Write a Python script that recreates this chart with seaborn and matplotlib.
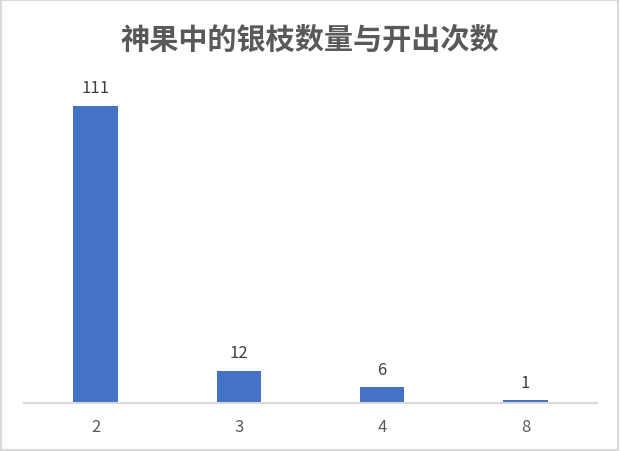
import pandas as pd
import matplotlib
matplotlib.use("Agg")
import matplotlib.pyplot as plt
import seaborn as sns
from matplotlib.patches import Rectangle

# chart data
branch_counts = ["2", "3", "4", "8"]
times_opened = [111, 12, 6, 1]

df = pd.DataFrame({"branches": branch_counts, "times": times_opened})

sns.set_theme(style="white")
plt.rcParams['font.family'] = ['Noto Sans CJK SC', 'DejaVu Sans']

fig = plt.figure(figsize=(6.2, 4.52), dpi=100)
ax = fig.add_axes([24 / 620, 48 / 452, 573 / 620, 332 / 452])

sns.barplot(data=df, x="branches", y="times", color="#4472C4",
            width=0.31, saturation=1, linewidth=0, ax=ax)

for i, v in enumerate(times_opened):
    ax.text(i, v + 3.5, str(v), ha="center", va="bottom", fontsize=12, color="#404040")

ax.set_ylim(0, 124)
ax.set_xlim(-0.5, 3.5)
ax.set_xlabel("")
ax.set_ylabel("")
ax.set_yticks([])
for s in ["top", "right", "left"]:
    ax.spines[s].set_visible(False)
ax.spines["bottom"].set_color("#D9D9D9")
ax.spines["bottom"].set_linewidth(1.5)
ax.tick_params(axis="x", length=0, pad=11, labelsize=12, labelcolor="#595959")

fig.text(0.5, 1 - 40 / 452, "神果中的银枝数量与开出次数", ha="center", va="center",
         fontsize=21, fontweight="bold", color="#595959")

# light frame around the chart
fig.patches.append(Rectangle((0.002, 0.003), 0.995, 0.994, transform=fig.transFigure,
                             fill=False, edgecolor="#D9D9D9", linewidth=1.5))

fig.savefig("out.png", dpi=100)
